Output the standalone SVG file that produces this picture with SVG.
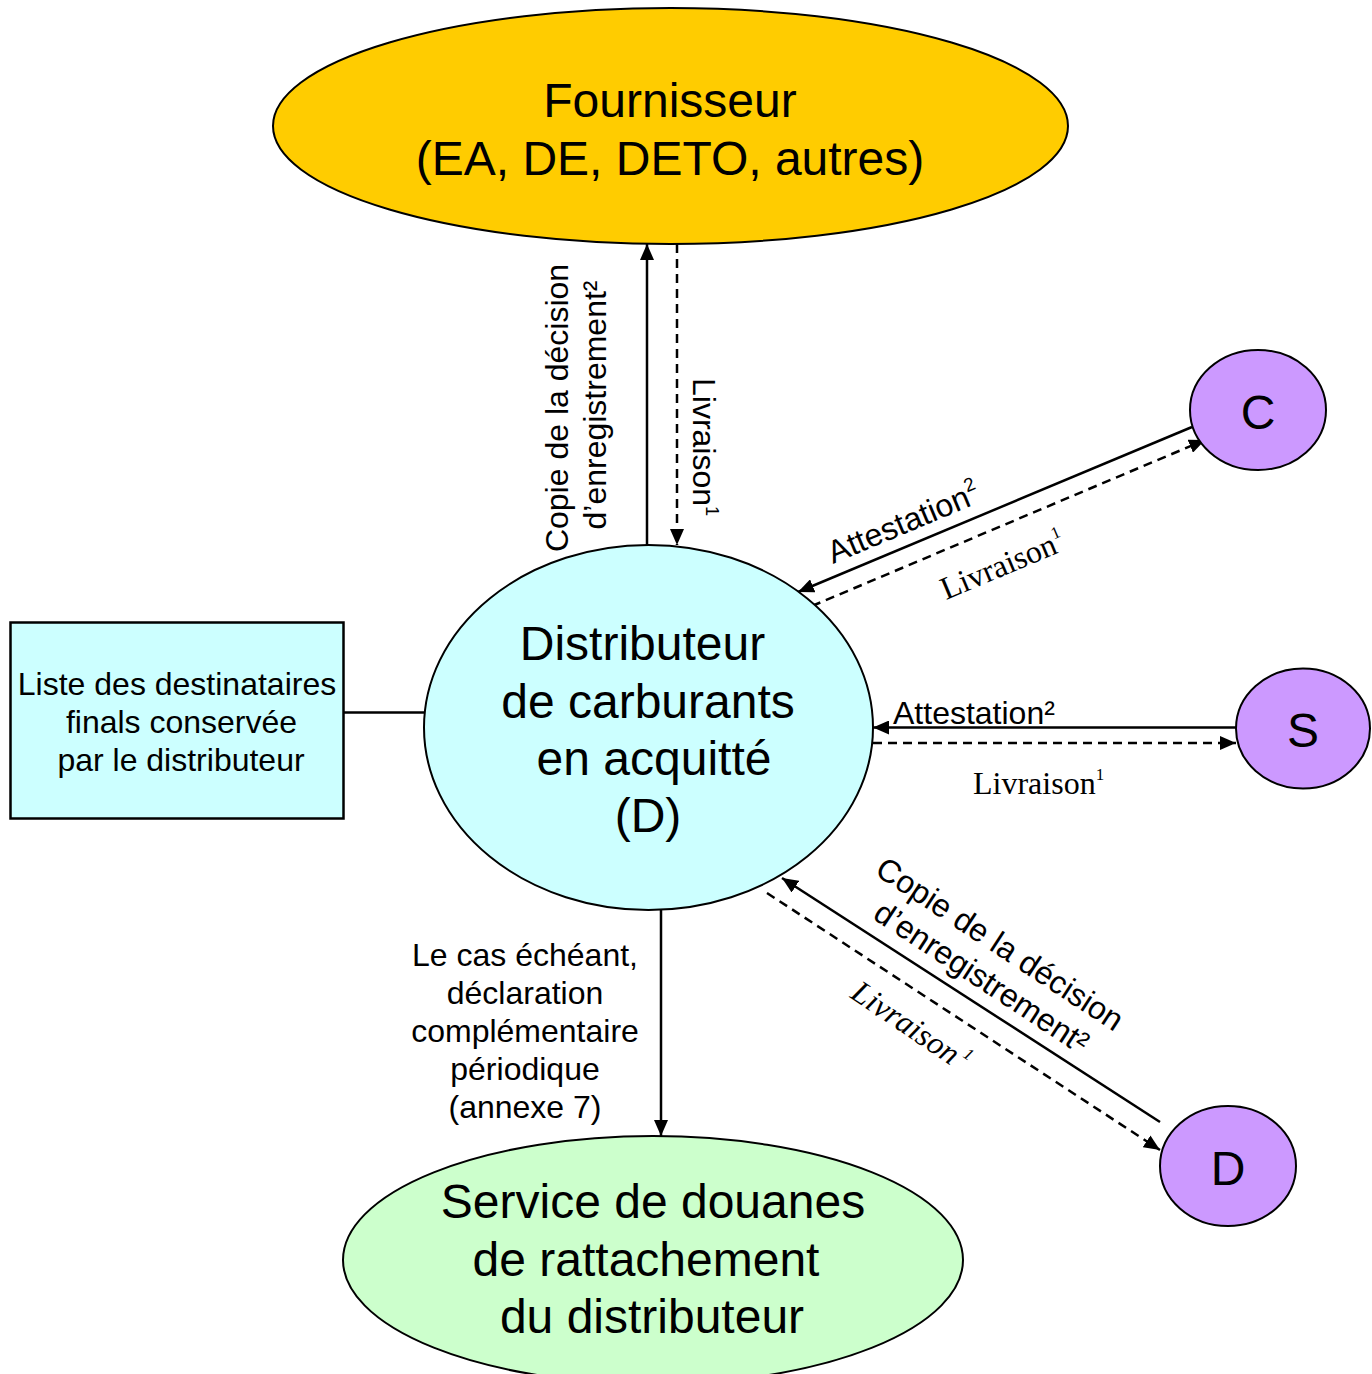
<svg xmlns="http://www.w3.org/2000/svg" width="1372" height="1374" viewBox="0 0 1372 1374">
<style>
.sans{font-family:"Liberation Sans",Arial,sans-serif;fill:#000}
.serif{font-family:"Liberation Serif","Times New Roman",serif;fill:#000}
.big{font-size:48px}
.lbl{font-size:32px}
.node{stroke:#000;stroke-width:2}
.solid{stroke:#000;stroke-width:2.5;fill:none}
.dash{stroke:#000;stroke-width:2.5;fill:none;stroke-dasharray:9 6}
.mid{text-anchor:middle}
</style>
<defs>
<marker id="ah" viewBox="0 0 16 14" refX="16" refY="7" markerWidth="16" markerHeight="14" orient="auto" markerUnits="userSpaceOnUse">
<path d="M0,0 L16,7 L0,14 z" fill="#000"/>
</marker>
</defs>
<rect width="1372" height="1374" fill="#fff"/>

<g id="connectors">
<line class="solid" x1="647" y1="545" x2="647" y2="244" marker-end="url(#ah)"/>
<line class="dash" x1="677" y1="244" x2="677" y2="545" marker-end="url(#ah)"/>
<line class="solid" x1="1192" y1="427" x2="798" y2="592" marker-end="url(#ah)"/>
<line class="dash" x1="812" y1="606" x2="1205" y2="440" marker-end="url(#ah)"/>
<line class="solid" x1="1236" y1="727.5" x2="873" y2="727.5" marker-end="url(#ah)"/>
<line class="dash" x1="873" y1="743" x2="1236" y2="743" marker-end="url(#ah)"/>
<line class="solid" x1="1160" y1="1122" x2="782" y2="878" marker-end="url(#ah)"/>
<line class="dash" x1="767" y1="893" x2="1160" y2="1150" marker-end="url(#ah)"/>
<line class="solid" x1="661" y1="910" x2="661" y2="1136" marker-end="url(#ah)"/>
<line class="solid" x1="344" y1="712.5" x2="425" y2="712.5" stroke-width="3"/>

<text class="sans lbl mid" transform="translate(568,408) rotate(-90)">Copie de la décision</text>
<text class="sans lbl mid" transform="translate(606,405) rotate(-90)">d’enregistrement²</text>
<text class="sans lbl" transform="translate(693,378) rotate(90)">Livraison<tspan font-size="18" dy="-13">1</tspan></text>

<text class="sans lbl" transform="translate(833,564) rotate(-22.8)">Attestation<tspan font-size="19" dy="-14">2</tspan></text>
<text class="serif lbl" transform="translate(946,600) rotate(-22.8)">Livraison<tspan font-size="17" dy="-14">1</tspan></text>

<text class="sans lbl" x="893" y="724">Attestation²</text>
<text class="serif lbl" x="973" y="794">Livraison<tspan font-size="17" dy="-14">1</tspan></text>

<g transform="translate(994,953) rotate(33.3)">
<text class="sans lbl mid" x="0" y="0">Copie de la décision</text>
<text class="sans lbl mid" x="3" y="38">d’enregistrement²</text>
</g>
<text class="serif lbl" font-style="italic" transform="translate(849,997) rotate(34)">Livraison<tspan font-size="17" dy="-14"> 1</tspan></text>

<g class="sans lbl mid">
<text x="525" y="966">Le cas échéant,</text>
<text x="525" y="1004">déclaration</text>
<text x="525" y="1042">complémentaire</text>
<text x="525" y="1080">périodique</text>
<text x="525" y="1118">(annexe 7)</text>
</g>
</g>

<g id="fournisseur">
<ellipse class="node" cx="670.5" cy="126" rx="397.5" ry="118" fill="#FFCC00"/>
<text class="sans big mid" x="670" y="117">Fournisseur</text>
<text class="sans big mid" x="670" y="175">(EA, DE, DETO, autres)</text>
</g>

<g id="distributeur">
<ellipse class="node" cx="648.5" cy="727.5" rx="224.5" ry="182.5" fill="#CCFFFF"/>
<text class="sans big mid" x="642.5" y="660">Distributeur</text>
<text class="sans big mid" x="648" y="717.5">de carburants</text>
<text class="sans big mid" x="654" y="775">en acquitté</text>
<text class="sans big mid" x="648" y="832">(D)</text>
</g>

<g id="liste">
<rect x="10.5" y="622.5" width="333" height="196" fill="#CCFFFF" stroke="#000" stroke-width="2.5"/>
<text class="sans lbl mid" x="177" y="695">Liste des destinataires</text>
<text class="sans lbl mid" x="181.5" y="733">finals conservée</text>
<text class="sans lbl mid" x="181" y="771">par le distributeur</text>
</g>

<g id="c">
<ellipse class="node" cx="1258" cy="410" rx="68" ry="60" fill="#CC99FF"/>
<text class="sans big mid" x="1258" y="429">C</text>
</g>

<g id="s">
<ellipse class="node" cx="1303" cy="728.5" rx="67" ry="60" fill="#CC99FF"/>
<text class="sans big mid" x="1303" y="747">S</text>
</g>

<g id="d">
<ellipse class="node" cx="1228" cy="1166" rx="68" ry="60" fill="#CC99FF"/>
<text class="sans big mid" x="1228" y="1185">D</text>
</g>

<g id="service">
<ellipse class="node" cx="653" cy="1260" rx="310" ry="124" fill="#CCFFCC"/>
<text class="sans big mid" x="653" y="1218">Service de douanes</text>
<text class="sans big mid" x="646" y="1276">de rattachement</text>
<text class="sans big mid" x="652" y="1333">du distributeur</text>
</g>
</svg>
